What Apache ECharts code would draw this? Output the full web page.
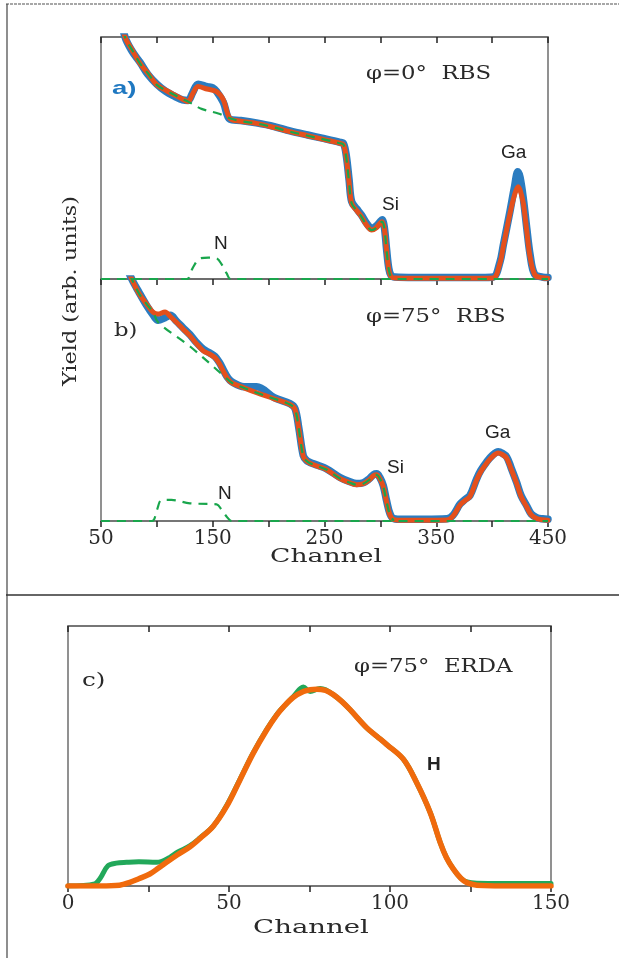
<!DOCTYPE html>
<html><head><meta charset="utf-8">
<script src="https://cdn.jsdelivr.net/npm/echarts@6/dist/echarts.min.js"></script>
<style>html,body{margin:0;padding:0;background:#fff}#c{width:619px;height:958px}</style>
</head><body><div id="c"></div>
<script>
// ---------- tick labels ----------
const ticksAB = [50, 150, 250, 350, 450];
const ticksC = [0, 50, 100, 150];

// ---------- panel a) phi=0 RBS ----------
const blueAX = [64,71.5,78,85,92,100,108,116,123,128,132,137,145,150,153.5,159.5,165.4,175,189,205,219,235,250,263.9,267,269.5,272,274.3,278.8,283,288,292.2,296,299.5,301.5,303.5,305.5,307.5,309.5,313,330,360,390,401,407,410,416,420,423,425,428,431,434,438,445,450];
const blueAY = [116,100,94,89.5,84.5,80.5,77.5,75.5,74,73.8,77,80.5,79.5,79,77.5,73,66,65.5,64.5,63,61.2,59.5,58,56.5,56,51,41,32,29,26.5,22.8,21,21.8,23.5,24.5,21.5,12.5,4.5,1.5,0.8,0.6,0.6,0.6,0.8,7,14,28,38,44.3,42,33,21,10,2,0.8,0.6];
const fitAX = [64,71.5,78,85,92,100,108,116,123,128,132,137,145,153.5,159.5,165.4,175,189,205,219,235,250,263.9,267,269.5,272,274.3,278.8,283,288,292.2,296,299.5,301.5,303.5,305.5,307.5,309.5,313,330,360,390,401,407,410,416,420.5,423.4,425.5,427.9,430.9,433.9,438.4,445,450];
const fitAY = [116,100,94.5,89,85,80.2,78,76,74.3,73.3,76.5,79.5,78.5,77.4,74,66.4,65.2,64.3,62.6,60.9,59.2,57.6,56.1,55.5,50,40,31.3,28.3,25.8,22,20.2,21,23,23.7,21,12,4,1,0.4,0.3,0.3,0.3,0.4,6.5,13.4,27.1,35.4,38.1,36,31.3,20.2,9.2,1.6,0.5,0.3];
const bgAX = [64,71.5,78,85,92,100,108,116,123,128,140,155,165.4,175,189,205,219,235,250,263.9,267,269.5,272,274.3,278.8,283,288,292.2,296,299.5,301.5,303.5,305.5,307.5,309.5,313];
const bgAY = [116,100,94.5,89,85,80.2,78,76,74.3,73.3,70.3,68.4,66.4,65.2,64.3,62.6,60.9,59.2,57.6,56.1,55.5,50,40,31.3,28.3,25.8,22,20.2,21,23,23.7,21,12,4,1,0];
const nAX = [50,126.7,132,138.6,146,153.5,158,162.5,166,450];
const nAY = [0,0,4.5,8.5,8.8,8.5,6,2.3,0,0];

// ---------- panel b) phi=75 RBS ----------
const fitBX = [70,77.5,84,90.9,96.8,101,107.3,112,117.7,123,129.6,135,141.5,147,152,156,159.4,163,167,178,189.3,205,219.1,223.6,227,231,234,237,244,252,263.9,272.8,278.8,284.7,290,294,296.7,299.5,302.6,305.5,308.6,312,320,340,359.4,365,371.3,376,380.2,386.2,390,395.1,400,405.5,409,413,417,421.9,426,430.9,435,439.9,445,450];
const fitBY = [108,100,94,89.6,86.2,85.5,86.4,84.5,82,79.5,76.5,73.5,70.3,69,67.5,65,61.9,59,57.1,55,53,50.5,48.1,46.1,38,26.7,24.8,23.9,22.6,21.2,17.5,15.8,15,15.4,17,18.8,19.1,17.5,14.2,8,2.5,0.6,0.3,0.3,0.4,2,6.6,8.5,10.1,17,20.5,23.9,26.5,28.1,27.5,26,21.5,15.6,10,5.9,2.5,1,0.5,0.3];
const blueBX = fitBX.slice();
const blueBY = [108,100,94.5,89,85,83,84,85,82.5,80,77,74,71,69.5,68,65.5,62.5,59.5,57.5,55.5,55.5,51,48.5,46.5,38.5,27,25,24.2,23,21.5,18,16.2,15.5,15.8,17.4,19.2,19.5,18,14.6,8.5,3,1,0.7,0.7,0.9,2.4,7,9,10.6,17.5,21,24.4,27,28.6,28,26.5,22,16,10.4,6.3,2.9,1.4,0.9,0.7];
const bgBX = [70,77.5,84,90.9,96.8,101.3,130,161,167,178,189.3,205,219.1,223.6,227,231,234,237,244,252,263.9,272.8,278.8,284.7,290,294,296.7,299.5,302.6,305.5,308.6,312];
const bgBY = [108,100,94,89.6,86.2,82,72,59.5,57.1,55,53,50.5,48.1,46.1,38,26.7,24.8,23.9,22.6,21.2,17.5,15.8,15,15.4,17,18.8,19.1,17.5,14.2,8,2.5,0];
const nBX = [50,95.4,100,104.3,113,129.6,153.5,158,162.5,167,450];
const nBY = [0,0,4.5,8.7,8.7,7.3,6.9,4.5,1.8,0,0];

// ---------- panel c) phi=75 ERDA ----------
const dataCX = [0,8.3,10,12.4,15,18.2,22,27.5,31.6,34,37.8,41,45.1,49.2,53.4,57.5,61.7,64.8,67,70,73.1,75.2,78.3,80,82.4,85,87.6,92.8,96,99,104.2,108.3,112.5,115.6,117.5,119.7,122,123.9,127,135,150];
const dataCY = [0,0.8,3,7.8,8.8,9.1,9.3,9.1,11,13,15.4,18.5,23,30.8,41,51.2,60.2,65.9,69,72.9,76.5,74.8,76,75.5,73.6,71,67.8,60.8,57.5,54.4,48.7,39.7,28.2,16.7,11,6.5,3,1.6,1.1,1,1];
const fitCX = [0,10,16,19.2,22,25.4,28,30.6,34,37.8,41,45.1,49.2,53.4,57.5,61.7,64.8,67,70,73.1,75.2,77.2,80,82.4,85,87.6,92.8,96,99,104.2,108.3,112.5,115.6,117.5,119.7,122,123.9,127,135,150];
const fitCY = [0,0,0.3,1.4,2.8,4.6,6.8,9.1,12,15,18.3,23,30.5,40.8,51,60,65.7,69,72.6,74.8,75.5,75.7,75.2,73.6,71,67.8,60.8,57.5,54.4,48.7,39.7,28.2,16.7,11,6.5,3,1.3,0.3,0,0];

const zip = (xs, ys) => xs.map((x, i) => [x, ys[i]]);

const BLUE = '#2b7cc0', RED = '#e4501c', GREEN = '#19a64c', ORANGE = '#f06a0c', GREENC = '#22a85a';
const SERIF = 'DejaVu Serif';
const SANS = 'Liberation Sans';
const FRAME = '#6e6e6e';

function xAx(grid, pos, min, max, interval, labels, tick) {
  return {
    type: 'value', gridIndex: grid, position: pos, min, max, interval,
    axisLine: { show: true, onZero: false, lineStyle: { color: FRAME, width: 1.5 } },
    splitLine: { show: false },
    axisTick: { show: tick !== 'none', inside: tick === 'in', length: 6, lineStyle: { color: '#222', width: 1.5 } },
    axisLabel: {
      show: !!labels, margin: 8, fontFamily: SERIF, fontSize: 20, color: '#2a2a2a',
      formatter: v => (labels && labels.includes(v) ? String(v) : '')
    }
  };
}
function yAx(grid) {
  return { type: 'value', gridIndex: grid, min: 0, max: 100, show: true,
    axisLine: { show: false }, axisTick: { show: false }, axisLabel: { show: false }, splitLine: { show: false } };
}
function line(xi, yi, data, color, width, z, dashed) {
  return { type: 'line', xAxisIndex: xi, yAxisIndex: yi, data, showSymbol: false, symbol: 'none',
    smooth: 0.35, z, clip: true, silent: true,
    lineStyle: { color, width, type: dashed ? [9, 7] : 'solid', cap: dashed ? 'butt' : 'round', join: 'round' } };
}
function txt(t, x, y, font, fill, sx) {
  return { type: 'text', x, y, scaleX: sx || 1, silent: true, z: 100,
    style: { text: t, font, fill, align: 'left', verticalAlign: 'middle', textAlign: 'left', textVerticalAlign: 'middle' } };
}
function ctxt(t, x, y, font, fill, sx, rot) {
  return { type: 'text', x, y, scaleX: sx || 1, rotation: rot || 0, silent: true, z: 100,
    style: { text: t, font, fill, align: 'center', verticalAlign: 'middle', textAlign: 'center', textVerticalAlign: 'middle' } };
}

const gridStyle = { show: true, borderColor: FRAME, borderWidth: 1.5, backgroundColor: 'transparent' };

const option = {
  animation: false,
  backgroundColor: '#fff',
  grid: [
    Object.assign({ left: 101, top: 37, width: 447, height: 242 }, gridStyle),
    Object.assign({ left: 101, top: 279, width: 447, height: 242 }, gridStyle),
    Object.assign({ left: 68, top: 626, width: 483, height: 260 }, gridStyle)
  ],
  xAxis: [
    xAx(0, 'bottom', 50, 450, 50, null, 'out'),
    xAx(0, 'top', 50, 450, 50, null, 'in'),
    xAx(1, 'bottom', 50, 450, 50, ticksAB, 'out'),
    xAx(1, 'top', 50, 450, 50, null, 'none'),
    xAx(2, 'bottom', 0, 150, 25, ticksC, 'out'),
    xAx(2, 'top', 0, 150, 25, null, 'in')
  ],
  yAxis: [yAx(0), yAx(1), yAx(2)],
  series: [
    line(0, 0, zip(blueAX, blueAY), BLUE, 7.5, 2),
    line(0, 0, zip(fitAX, fitAY), RED, 5, 3),
    line(0, 0, zip(bgAX, bgAY), GREEN, 2.2, 4, true),
    line(0, 0, zip(nAX, nAY), GREEN, 2.2, 4, true),
    line(2, 1, zip(blueBX, blueBY), BLUE, 7.5, 2),
    line(2, 1, zip(fitBX, fitBY), RED, 5, 3),
    line(2, 1, zip(bgBX, bgBY), GREEN, 2.2, 4, true),
    line(2, 1, zip(nBX, nBY), GREEN, 2.2, 4, true),
    line(4, 2, zip(dataCX, dataCY), GREENC, 5, 2),
    line(4, 2, zip(fitCX, fitCY), ORANGE, 5.5, 3)
  ],
  graphic: [
    { type: 'line', silent: true, shape: { x1: 6, y1: 4, x2: 619, y2: 4 }, style: { stroke: '#8a8a8a', lineWidth: 1.5, lineDash: [3, 1] } },
    { type: 'line', silent: true, shape: { x1: 7, y1: 4, x2: 7, y2: 958 }, style: { stroke: '#444', lineWidth: 1.2 } },
    { type: 'line', silent: true, shape: { x1: 6, y1: 595, x2: 619, y2: 595 }, style: { stroke: '#333', lineWidth: 1.5 } },
    ctxt('Yield (arb. units)', 71, 291, '19px ' + SERIF, '#2a2a2a', 1.18, Math.PI / 2),
    ctxt('Channel', 326, 557, '19px ' + SERIF, '#2a2a2a', 1.4),
    ctxt('Channel', 311, 928, '19px ' + SERIF, '#2a2a2a', 1.45),
    txt('a)', 112, 89, 'bold 19px ' + SANS, '#1f78c1', 1.45),
    txt('b)', 114, 331, '19px ' + SERIF, '#2a2a2a', 1.2),
    txt('c)', 82, 681, '19px ' + SERIF, '#2a2a2a', 1.3),
    txt('φ=0°  RBS', 366, 74, '19px ' + SERIF, '#2a2a2a', 1.2),
    txt('φ=75°  RBS', 366, 317, '19px ' + SERIF, '#2a2a2a', 1.2),
    txt('φ=75°  ERDA', 354, 667, '19px ' + SERIF, '#2a2a2a', 1.2),
    txt('Ga', 501, 153, '19px ' + SANS, '#222'),
    txt('Si', 382, 205, '19px ' + SANS, '#222'),
    txt('N', 214, 244, '19px ' + SANS, '#222'),
    txt('Ga', 485, 433, '19px ' + SANS, '#222'),
    txt('Si', 387, 468, '19px ' + SANS, '#222'),
    txt('N', 218, 494, '19px ' + SANS, '#222'),
    txt('H', 427, 765, 'bold 19px ' + SANS, '#222')
  ]
};
const chart = echarts.init(document.getElementById('c'), null, { renderer: 'canvas' });
chart.setOption(option);
</script>
</body></html>
